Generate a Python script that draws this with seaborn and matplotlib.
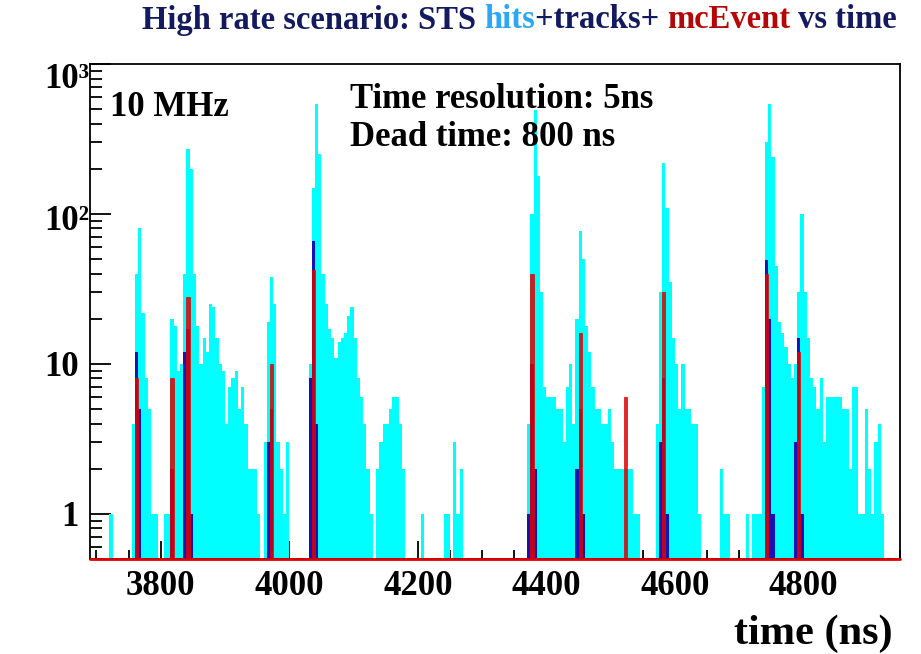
import numpy as np
import pandas as pd
import matplotlib
matplotlib.use("Agg")
import matplotlib.pyplot as plt
import matplotlib.transforms as mtransforms
from matplotlib.ticker import FixedLocator, NullFormatter, LogLocator, MultipleLocator
import seaborn as sns

# ---------------- data (bin start times in ns, 5 ns bins) ----------------
hit_times = [3720,
             3755, 3760, 3765, 3770, 3775, 3780, 3785, 3790, 3805, 3810,
             3815, 3820, 3825, 3830, 3835, 3840, 3845, 3850, 3855, 3860,
             3865, 3870, 3875, 3880, 3885, 3890, 3895, 3900, 3905, 3910,
             3915, 3920, 3925, 3930, 3935, 3940, 3945, 3950,
             3960, 3965, 3970, 3975, 3980, 3985, 3990, 3995,
             4030, 4035, 4040, 4045, 4050, 4055, 4060, 4065, 4070, 4075,
             4080, 4085, 4090, 4095, 4100, 4105, 4110, 4115, 4120, 4125,
             4135, 4140, 4145, 4150, 4155, 4160, 4165, 4170, 4175,
             4205, 4240, 4245, 4255, 4260, 4265,
             4370, 4375, 4380, 4385, 4390, 4395, 4400, 4405, 4410, 4415,
             4420, 4425, 4430, 4435, 4440, 4445, 4450, 4455, 4460, 4465,
             4470, 4475, 4480, 4485, 4490, 4495, 4500, 4505, 4510, 4515,
             4520, 4525, 4530, 4535, 4540,
             4570, 4575, 4580, 4585, 4590, 4595, 4600, 4605, 4610, 4615,
             4620, 4625, 4630, 4635,
             4670, 4675, 4680, 4710, 4720, 4725, 4730,
             4735, 4740, 4745, 4750, 4755, 4760, 4765, 4770, 4775, 4780,
             4785, 4790, 4795, 4800, 4805, 4810, 4815, 4820, 4825, 4830,
             4835, 4840, 4845, 4850, 4855, 4860, 4865, 4870, 4875, 4880,
             4885, 4890, 4895, 4900, 4905, 4910, 4915, 4920]
hit_counts = [1,
              4, 40, 80, 22, 8, 5, 1, 1, 1, 1,
              20, 18, 9, 10, 40, 270, 200, 40, 18, 10,
              15, 12, 25, 24, 15, 10, 9, 4, 7, 8,
              9, 5, 7, 4, 2, 2, 2, 1,
              3, 19, 38, 25, 3, 2, 1, 3,
              10, 150, 540, 250, 40, 25, 17, 15, 11, 14,
              15, 16, 21, 24, 15, 8, 6, 4, 2, 1,
              2, 3, 4, 4, 5, 6, 6, 4, 2,
              1, 1, 1, 3, 1, 2,
              4, 100, 490, 180, 30, 7, 6, 6, 6, 5,
              5, 3, 7, 10, 4, 20, 77, 50, 18, 12,
              7, 5, 5, 4, 4, 5, 3, 2, 2, 2,
              2, 2, 2, 1, 1,
              4, 30, 220, 110, 35, 15, 10, 5, 10, 5,
              5, 4, 4, 1,
              2, 1, 1, 1, 1, 1, 1,
              7, 300, 540, 240, 45, 19, 16, 13, 10, 8,
              10, 30, 100, 30, 15, 8, 7, 5, 8, 3,
              6, 6, 6, 6, 6, 5, 5, 2, 7, 7,
              1, 1, 5, 2, 1, 3, 4, 1]

track_times = [3760, 3765, 3815, 3835, 3840, 3845, 3965, 3970,
               4030, 4035, 4040, 4370, 4375, 4380, 4445, 4450, 4455,
               4575, 4580, 4585, 4740, 4745, 4750, 4785, 4790, 4795]
track_counts = [12, 5, 2, 12, 17, 1, 3, 5,
                8, 66, 4, 1, 10, 2, 2, 5, 1,
                3, 8, 1, 49, 20, 1, 3, 15, 1]

mc_times = [3760, 3815, 3840, 3970, 4035, 4375, 4450, 4520, 4580, 4740, 4790]
mc_counts = [8, 8, 28, 10, 42, 40, 16, 6, 30, 40, 12]

x_ticks = [3800, 4000, 4200, 4400, 4600, 4800]
x_tick_labels = ["3800", "4000", "4200", "4400", "4600", "4800"]
y_ticks = [1, 10, 100, 1000]
y_tick_labels = ["1", "10", "10\u00b2", "10\u00b3"]

title_parts = ["High rate scenario: STS ", "hits", "+tracks+ ", "mcEvent", " vs time"]
x_label = "time (ns)"
notes = ["10 MHz", "Time resolution: 5ns", "Dead time: 800 ns"]

BIN = 5
XMIN, XMAX = 3690, 4950
YMIN, YMAX = 0.5, 1000

# ---------------- style ----------------
CYAN = "#00ffff"
NAVY = "#1414b4"
RED = "#e00000"
TITLE_NAVY = "#141a5e"
TITLE_BLUE = "#2ea6f2"
TITLE_RED = "#b40808"

sns.set_style("ticks")
plt.rcParams["font.family"] = ["Liberation Serif", "DejaVu Serif"]
plt.rcParams["font.weight"] = "bold"

W, H = 921, 654
fig = plt.figure(figsize=(W / 100, H / 100), dpi=100)
fig.patch.set_facecolor("white")
ax = fig.add_axes([90 / W, 1 - 559 / H, 810 / W, (559 - 64) / H])
ax.set_facecolor("white")

df_hits = pd.DataFrame({"t": np.array(hit_times, dtype=float) + BIN / 2,
                        "n": np.array(hit_counts, dtype=float)})
df_tracks = pd.DataFrame({"t": np.array(track_times, dtype=float) + BIN / 2,
                          "n": np.array(track_counts, dtype=float)})
df_mc = pd.DataFrame({"t": np.array(mc_times, dtype=float) + BIN / 2,
                      "n": np.array(mc_counts, dtype=float)})

common = dict(x="t", weights="n", binwidth=BIN, binrange=(XMIN, XMAX), ax=ax)
sns.histplot(data=df_hits, element="step", fill=True, color=CYAN, alpha=1.0,
             linewidth=0, **common)
sns.histplot(data=df_tracks, element="step", fill=True, color=NAVY, alpha=1.0,
             linewidth=0, **common)
sns.histplot(data=df_mc, element="step", fill=True, color=RED, alpha=0.85,
             linewidth=0.5, edgecolor=RED, **common)

ax.set_yscale("log")
ax.set_xlim(XMIN, XMAX)
ax.set_ylim(YMIN, YMAX)
ax.set_xlabel("")
ax.set_ylabel("")

ax.axhline(YMIN, color=RED, lw=2.0, clip_on=False, zorder=6)

for s in ax.spines.values():
    s.set_color("black")
    s.set_linewidth(1.3)
    s.set_visible(True)

ax.xaxis.set_major_locator(FixedLocator(x_ticks))
ax.xaxis.set_minor_locator(MultipleLocator(50))
ax.set_xticklabels(x_tick_labels)
ax.yaxis.set_major_locator(FixedLocator(y_ticks))
ax.yaxis.set_minor_locator(LogLocator(base=10, subs=np.arange(2, 10)))
ax.yaxis.set_minor_formatter(NullFormatter())
ax.set_yticklabels(y_tick_labels)

ax.tick_params(axis="x", which="major", direction="in", length=13, width=1.3,
               colors="black", top=False, labelsize=25, pad=8)
ax.tick_params(axis="x", which="minor", direction="in", length=6.5, width=1.3,
               colors="black", top=False)
ax.tick_params(axis="y", which="major", direction="in", length=15, width=1.3,
               colors="black", right=False, labelsize=25, pad=8)
ax.tick_params(axis="y", which="minor", direction="in", length=8.5, width=1.3,
               colors="black", right=False)
for lab in ax.get_xticklabels() + ax.get_yticklabels():
    lab.set_fontweight("bold")

# x label
fig.text(893 / W, 1 - 634 / H, x_label, ha="right", va="center",
         fontsize=30.5, fontweight="bold", color="black")

# annotations
fig.text(110 / W, 1 - 107 / H, notes[0], ha="left", va="center",
         fontsize=25, fontweight="bold", color="black")
fig.text(350 / W, 1 - 99 / H, notes[1], ha="left", va="center",
         fontsize=25, fontweight="bold", color="black")
fig.text(350 / W, 1 - 137 / H, notes[2], ha="left", va="center",
         fontsize=25, fontweight="bold", color="black")

# multi-coloured title
fig.canvas.draw()
renderer = fig.canvas.get_renderer()
colors = [TITLE_NAVY, TITLE_BLUE, TITLE_NAVY, TITLE_RED, TITLE_NAVY]
xpix = 142
for part, c in zip(title_parts, colors):
    t = fig.text(xpix / W, 1 - 20 / H, part, ha="left", va="center",
                 fontsize=23.5, fontweight="bold", color=c)
    bb = t.get_window_extent(renderer=renderer)
    xpix += bb.width

# shift 10^2 and 10^3 so that their "10" aligns with the plain "10"
fig.canvas.draw()
ylabs = ax.get_yticklabels()
ref_w = None
for lab in ylabs:
    if lab.get_text() == "10":
        ref_w = lab.get_window_extent(renderer=renderer).width
if ref_w is not None:
    for lab in ylabs:
        txt = lab.get_text()
        if txt in ("10\u00b2", "10\u00b3"):
            w = lab.get_window_extent(renderer=renderer).width
            dx = (w - ref_w) / fig.dpi
            dy = (-12 if txt == "10\u00b3" else -4) / fig.dpi
            lab.set_transform(lab.get_transform() +
                              mtransforms.ScaledTranslation(dx, dy, fig.dpi_scale_trans))

fig.savefig("out.png", dpi=100, facecolor="white")
